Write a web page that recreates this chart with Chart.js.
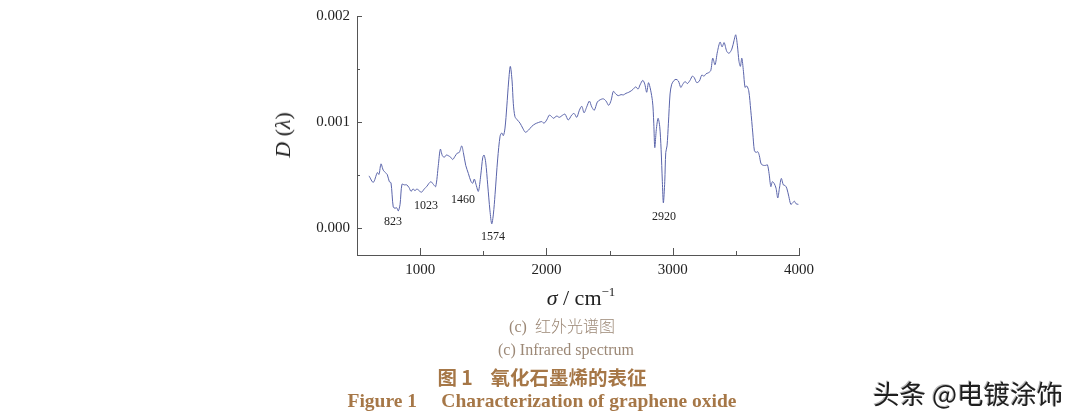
<!DOCTYPE html>
<html>
<head>
<meta charset="utf-8">
<script src="https://cdn.jsdelivr.net/npm/chart.js@4/dist/chart.umd.min.js"></script>
<style>
  body { margin: 0; background: #fff; }
  #wrap { position: relative; width: 1080px; height: 418px; overflow: hidden; }
  #irChart { position: absolute; left: 0; top: 0; }
  .t { position: absolute; white-space: nowrap; transform: translate(-50%, -50%); line-height: 1; }
  .serif { font-family: "Liberation Serif", "DejaVu Serif", serif; }
  .sub { color: #9c8876; font-size: 16px; }
  .cap { color: #a67747; font-size: 19.5px; font-weight: bold; }
</style>
</head>
<body>
<div id="wrap">
  <canvas id="irChart" width="1080" height="418"></canvas>
  <div class="t serif" style="left:283px; top:135px; font-size:22px; color:#222; transform:translate(-50%,-50%) rotate(-90deg);"><i>D</i> (<i>λ</i>)</div>
  <div class="t serif" style="left:581px; top:297px; font-size:22px; color:#222;"><i>σ</i> / cm<sup style="font-size:13px;">−1</sup></div>
  <div class="t sub" style="left:562px; top:326px; font-family:'Liberation Serif','Noto Sans CJK SC',serif;">(c)&nbsp; <span style="font-family:'Noto Sans CJK SC';font-weight:300;">红外光谱图</span></div>
  <div class="t sub serif" style="left:566px; top:350px;">(c) Infrared spectrum</div>
  <div class="t cap" style="left:542px; top:377px; font-family:'Noto Sans CJK SC',sans-serif;">图 1&nbsp;&nbsp;&nbsp; 氧化石墨烯的表征</div>
  <div class="t cap serif" style="left:542px; top:401px;">Figure 1&nbsp;&nbsp;&nbsp;&nbsp; Characterization of graphene oxide</div>
  <div class="t" style="left:968px; top:393px; font-family:'Noto Sans CJK SC',sans-serif; font-size:26.5px; color:#1e1e1e; text-shadow:1px 1px 0 #fff, -1px -1px 0 #bbb;">头条 @电镀涂饰</div>
</div>

<script>
// wavenumber (cm^-1) and D(lambda)
const wavenumber = [
  595, 629, 661, 674, 690, 708, 727, 740, 756, 769,
  787, 801, 814, 827, 841, 856, 875, 894, 912, 928,
  944, 959, 975, 991, 1012, 1033, 1052, 1070, 1086, 1104,
  1123, 1144, 1160, 1176, 1191, 1207, 1223, 1242, 1258, 1276,
  1294, 1310, 1329, 1342, 1361, 1382, 1401, 1416, 1429, 1442,
  1461, 1480, 1496, 1506, 1519, 1535, 1553, 1567, 1580, 1593,
  1614, 1633, 1646, 1659, 1672, 1686, 1701, 1714, 1728, 1738,
  1751, 1770, 1791, 1812, 1833, 1857, 1884, 1910, 1936, 1963,
  1981, 2002, 2023, 2042, 2055, 2082, 2102, 2129, 2147, 2173,
  2200, 2219, 2240, 2261, 2280, 2298, 2319, 2340, 2359, 2379,
  2403, 2425, 2451, 2472, 2493, 2512, 2530, 2549, 2569, 2591,
  2609, 2630, 2652, 2672, 2688, 2707, 2726, 2741, 2763, 2779,
  2794, 2809, 2839, 2850, 2858, 2870, 2884, 2897, 2908, 2918,
  2926, 2937, 2945, 2955, 2966, 2979, 2992, 3011, 3026, 3045,
  3064, 3080, 3098, 3116, 3137, 3156, 3171, 3190, 3211, 3230,
  3248, 3264, 3282, 3301, 3317, 3335, 3354, 3375, 3391, 3407,
  3428, 3446, 3468, 3486, 3499, 3512, 3525, 3536, 3547, 3560,
  3573, 3586, 3602, 3618, 3634, 3647, 3660, 3674, 3686, 3700,
  3718, 3737, 3750, 3763, 3777, 3789, 3803, 3818, 3832, 3845,
  3860, 3876, 3890, 3903, 3919, 3935, 3950, 3963, 3977, 3995
];
const absorbance = [
  0.000495, 0.000434, 0.000526, 0.000508, 0.000608, 0.000548, 0.000523, 0.000507, 0.000440, 0.000431,
  0.000202, 0.000190, 0.000195, 0.000165, 0.000227, 0.000416, 0.000410, 0.000410, 0.000385, 0.000349,
  0.000373, 0.000355, 0.000373, 0.000355, 0.000342, 0.000373, 0.000394, 0.000425, 0.000440, 0.000416,
  0.000394, 0.000594, 0.000746, 0.000685, 0.000670, 0.000691, 0.000685, 0.000670, 0.000649, 0.000679,
  0.000709, 0.000716, 0.000777, 0.000716, 0.000594, 0.000517, 0.000447, 0.000425, 0.000465, 0.000416,
  0.000349, 0.000502, 0.000670, 0.000691, 0.000624, 0.000410, 0.000165, 0.000043, 0.000135, 0.000318,
  0.000654, 0.000869, 0.000899, 0.000874, 0.000945, 0.001144, 0.001388, 0.001526, 0.001388, 0.001174,
  0.001052, 0.001021, 0.000991, 0.000945, 0.000906, 0.000924, 0.000961, 0.000984, 0.000997, 0.001006,
  0.000991, 0.001021, 0.001067, 0.001052, 0.001037, 0.001058, 0.001046, 0.001067, 0.001076, 0.001021,
  0.001067, 0.001083, 0.001046, 0.001113, 0.001150, 0.001089, 0.001144, 0.001199, 0.001144, 0.001113,
  0.001190, 0.001211, 0.001220, 0.001199, 0.001159, 0.001205, 0.001291, 0.001266, 0.001250, 0.001260,
  0.001257, 0.001272, 0.001282, 0.001296, 0.001312, 0.001333, 0.001312, 0.001351, 0.001394, 0.001358,
  0.001282, 0.001372, 0.001205, 0.000991, 0.000761, 0.000929, 0.001037, 0.000961, 0.000746, 0.000440,
  0.000241, 0.000440, 0.000716, 0.000777, 0.000991, 0.001266, 0.001358, 0.001394, 0.001404, 0.001388,
  0.001328, 0.001358, 0.001383, 0.001364, 0.001394, 0.001434, 0.001419, 0.001373, 0.001388, 0.001443,
  0.001434, 0.001456, 0.001465, 0.001486, 0.001603, 0.001541, 0.001663, 0.001755, 0.001709, 0.001750,
  0.001667, 0.001649, 0.001688, 0.001771, 0.001823, 0.001725, 0.001572, 0.001526, 0.001603, 0.001480,
  0.001328, 0.001342, 0.001296, 0.001113, 0.000899, 0.000731, 0.000716, 0.000722, 0.000685, 0.000608,
  0.000594, 0.000594, 0.000599, 0.000517, 0.000394, 0.000440, 0.000425, 0.000379, 0.000287, 0.000379,
  0.000471, 0.000410, 0.000404, 0.000379, 0.000303, 0.000227, 0.000241, 0.000257, 0.000232, 0.000227
];

// peak annotations (text, wavenumber, D) placed below the minima
const peakLabels = ["823", "1023", "1460", "1574", "2920"];
const peakLabelX = [785, 1046, 1340, 1577, 2931];
const peakLabelY = [0.000064, 0.000211, 0.000266, -0.000083, 0.000110];

const xMajorTicks = [1000, 2000, 3000, 4000];
const xMinorTicks = [1500, 2500, 3500];
const yMajorTicks = [0, 0.001, 0.002];
const yMinorTicks = [0.0005, 0.0015];

const serif = "'Liberation Serif', 'DejaVu Serif', serif";

// ticks point into the plot, labels for peaks
const innerTicks = {
  id: "innerTicks",
  afterDraw(chart) {
    const { ctx, chartArea, scales } = chart;
    const x = scales.x;
    const y = scales.y;
    ctx.save();
    ctx.strokeStyle = "#555";
    ctx.lineWidth = 1;
    ctx.beginPath();
    xMajorTicks.forEach(v => {
      const px = Math.round(x.getPixelForValue(v)) + 0.5;
      ctx.moveTo(px, chartArea.bottom);
      ctx.lineTo(px, chartArea.bottom - 7);
    });
    xMinorTicks.forEach(v => {
      const px = Math.round(x.getPixelForValue(v)) + 0.5;
      ctx.moveTo(px, chartArea.bottom);
      ctx.lineTo(px, chartArea.bottom - 4);
    });
    yMajorTicks.forEach(v => {
      const py = Math.round(y.getPixelForValue(v)) + 0.5;
      ctx.moveTo(chartArea.left, py);
      ctx.lineTo(chartArea.left + 5, py);
    });
    yMinorTicks.forEach(v => {
      const py = Math.round(y.getPixelForValue(v)) + 0.5;
      ctx.moveTo(chartArea.left, py);
      ctx.lineTo(chartArea.left + 3, py);
    });
    ctx.stroke();

    ctx.fillStyle = "#222";
    ctx.font = "12px " + serif;
    ctx.textAlign = "center";
    ctx.textBaseline = "middle";
    peakLabels.forEach((txt, i) => {
      ctx.fillText(txt, x.getPixelForValue(peakLabelX[i]), y.getPixelForValue(peakLabelY[i]));
    });
    ctx.restore();
  }
};

const chartElement = document.getElementById("irChart");
new Chart(chartElement, {
  type: "line",
  data: {
    datasets: [
      {
        label: "IR",
        data: wavenumber.map((s, i) => ({ x: s, y: absorbance[i] })),
        borderColor: "#5a64aa",
        borderWidth: 1,
        pointRadius: 0,
        tension: 0.3,
        fill: false,
      },
    ],
  },
  options: {
    responsive: false,
    animation: false,
    devicePixelRatio: 1,
    layout: { padding: { left: 0, top: 10, right: 281, bottom: 0 } },
    plugins: {
      legend: { display: false },
      tooltip: { enabled: false },
    },
    scales: {
      x: {
        type: "linear",
        min: 500,
        max: 4000,
        afterFit: s => { s.height = 163; },
        afterBuildTicks: s => { s.ticks = xMajorTicks.map(v => ({ value: v })); },
        grid: { display: false, drawTicks: false },
        border: { display: true, color: "#555", width: 1 },
        ticks: {
          padding: 6,
          color: "#222",
          font: { family: serif, size: 15 },
          maxRotation: 0,
          callback: v => String(v),
        },
      },
      y: {
        min: -0.00025,
        max: 0.002,
        afterFit: s => { s.width = 357; },
        afterBuildTicks: s => { s.ticks = yMajorTicks.map(v => ({ value: v })); },
        grid: { display: false, drawTicks: false },
        border: { display: true, color: "#555", width: 1 },
        ticks: {
          padding: 7,
          color: "#222",
          font: { family: serif, size: 15 },
          callback: v => v.toFixed(3),
        },
      },
    },
  },
  plugins: [innerTicks],
});
</script>
</body>
</html>
